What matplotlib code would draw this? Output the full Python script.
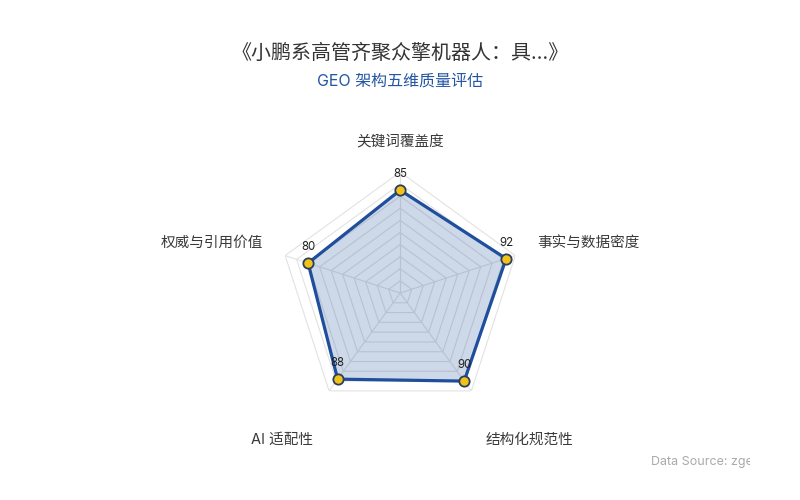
import numpy as np
import matplotlib
matplotlib.use('Agg')
import matplotlib.pyplot as plt
from matplotlib.patches import Rectangle

plt.rcParams['font.family'] = ['Inter', 'Noto Sans CJK SC', 'DejaVu Sans']

TITLE = '《小鹏系高管齐聚众擎机器人：具…》'
SUBTITLE = 'GEO 架构五维质量评估'
SOURCE = 'Data Source: zgeo.ai'

categories = ['关键词覆盖度', '事实与数据密度', '结构化规范性', 'AI 适配性', '权威与引用价值']
scores = [85, 92, 90, 88, 80]
ring_levels = [10, 20, 30, 40, 50, 60, 70, 80, 90, 100]

LINE = '#1f4e9c'
MARKER = '#f2c21b'
GRID = '#e2e2e2'
TEXT = '#3a3a3a'

n = len(categories)
theta = np.linspace(0, 2 * np.pi, n, endpoint=False)
theta_closed = np.append(theta, theta[0])
scores_closed = scores + scores[:1]

fig = plt.figure(figsize=(8, 5), dpi=100)
ax = fig.add_axes([0.349, 0.172, 0.3025, 0.484], projection='polar')
ax.set_theta_offset(np.pi / 2)
ax.set_theta_direction(-1)
ax.set_ylim(0, 100)
ax.grid(False)
ax.spines['polar'].set_visible(False)
ax.set_xticks([])
ax.set_yticks([])
ax.patch.set_alpha(0)

# pentagon grid
for lvl in ring_levels:
    ax.plot(theta_closed, [lvl] * (n + 1), color=GRID, lw=0.8, zorder=1)
for t in theta:
    ax.plot([t, t], [0, 100], color=GRID, lw=0.8, zorder=1)

ax.fill(theta_closed, scores_closed, color=LINE, alpha=0.22, zorder=2)
ax.plot(theta_closed, scores_closed, color=LINE, lw=2.3, zorder=3)
ax.scatter(theta, scores, s=55, color=MARKER, edgecolor='#2b3f5c', linewidth=1.3, zorder=4, clip_on=False)

for t, v in zip(theta, scores):
    ax.annotate(str(v), (t, v), xytext=(0, 7), textcoords='offset points',
                ha='center', va='bottom', fontsize=8.3, color='#222222', zorder=5)

# category labels
label_offsets = [(0, 21), (16, 9), (42, -35), (-34, -35), (-16, 9)]
label_align = ['center', 'left', 'center', 'center', 'right']
for t, name, off, ha in zip(theta, categories, label_offsets, label_align):
    ax.annotate(name, (t, 100), xytext=off, textcoords='offset points',
                ha=ha, va='center', fontsize=10.5, color=TEXT)

fig.text(0.5, 0.894, TITLE, ha='center', va='center', fontsize=14.4, color='#333333')
fig.text(0.5, 0.838, SUBTITLE, ha='center', va='center', fontsize=11.5, color='#2456a4')

src = fig.text(0.814, 0.076, SOURCE, ha='left', va='center', fontsize=9, color='#aaaaaa')
clip = Rectangle((0, 0), 750 / 800, 1, transform=fig.transFigure)
src.set_clip_path(clip)

fig.savefig('out.png', dpi=100, facecolor='white')
